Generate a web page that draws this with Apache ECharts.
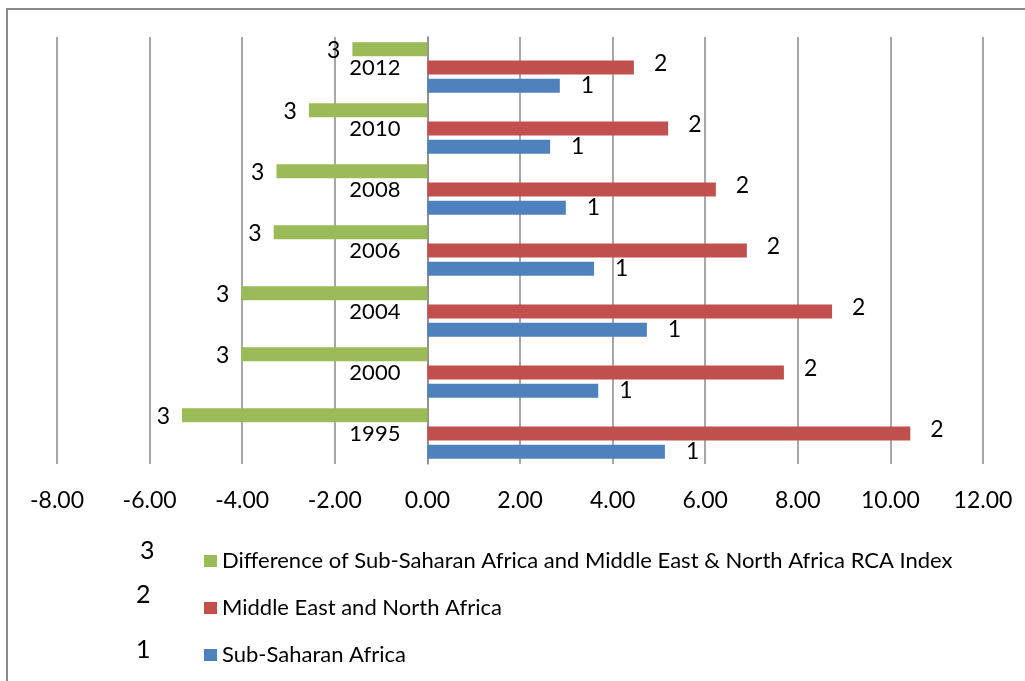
<!DOCTYPE html>
<html>
<head>
<meta charset="utf-8">
<script src="https://cdn.jsdelivr.net/npm/echarts@6/dist/echarts.min.js"></script>
<style>
html,body{margin:0;padding:0;background:#fff;}
#chart{width:1025px;height:681px;}
</style>
</head>
<body>
<div id="chart"></div>
<script>
const years = ['1995', '2000', '2004', '2006', '2008', '2010', '2012'];
const subSaharan = [5.13, 3.69, 4.74, 3.60, 2.99, 2.65, 2.86];
const mena = [10.43, 7.70, 8.74, 6.90, 6.23, 5.20, 4.46];
const difference = [-5.30, -4.02, -4.02, -3.32, -3.26, -2.56, -1.62];
const seriesNames = [
  'Difference of Sub-Saharan Africa and Middle East & North Africa RCA Index',
  'Middle East and North Africa',
  'Sub-Saharan Africa'
];
const seriesTags = ['3', '2', '1'];
const axisMin = -8, axisMax = 12, axisStep = 2;

const FONT = 'Lato';
const chart = echarts.init(document.getElementById('chart'), null, {renderer: 'canvas'});

function mkSeries(i, data, color, pos, dist, offY) {
  return {
    name: seriesNames[i],
    type: 'bar',
    data: data,
    barWidth: 14,
    barGap: '30%',
    itemStyle: {color: color},
    label: {
      show: true,
      position: pos,
      distance: dist,
      offset: [0, offY],
      formatter: () => seriesTags[i],
      fontFamily: FONT,
      fontSize: 23,
      color: '#000'
    },
    emphasis: {disabled: true},
    animation: false
  };
}

const option = {
  animation: false,
  grid: {left: 57, right: 42, top: 37, bottom: 217, containLabel: false, outerBoundsMode: 'none'},
  xAxis: {
    type: 'value',
    min: axisMin, max: axisMax, interval: axisStep,
    axisLine: {show: false},
    axisTick: {show: false},
    splitLine: {show: true, lineStyle: {color: '#8a8a8a', width: 1.5}},
    axisLabel: {
      formatter: v => v.toFixed(2),
      fontFamily: FONT, fontSize: 23, color: '#000', margin: 25
    }
  },
  yAxis: {
    type: 'category',
    data: years,
    axisLine: {show: true, onZero: true, lineStyle: {color: '#8a8a8a', width: 1.5}},
    axisTick: {show: false},
    axisLabel: {show: false}
  },
  legend: {
    orient: 'vertical',
    left: 204, top: 549,
    padding: 0,
    data: seriesNames,
    icon: 'rect',
    itemWidth: 13, itemHeight: 12,
    itemGap: 23,
    selectedMode: false,
    textStyle: {fontFamily: FONT, fontSize: 22, color: '#000', lineHeight: 24}
  },
  graphic: [
    {type: 'rect', shape: {x: 7, y: 9, width: 1030, height: 690}, style: {fill: 'none', stroke: '#8a8a8a', lineWidth: 2}, silent: true},
    {type: 'text', left: 140, top: 538, style: {text: seriesTags[0], fontFamily: FONT, fontSize: 25, fill: '#000'}},
    {type: 'text', left: 136, top: 582, style: {text: seriesTags[1], fontFamily: FONT, fontSize: 25, fill: '#000'}},
    {type: 'text', left: 136, top: 637, style: {text: seriesTags[2], fontFamily: FONT, fontSize: 25, fill: '#000'}}
  ],
  series: [
    mkSeries(0, difference, '#9BBB59', 'left', 12, 1),
    mkSeries(1, mena, '#C0504D', 'right', 20, -4),
    mkSeries(2, subSaharan, '#4F81BD', 'right', 21, 0),
    {
      type: 'scatter',
      data: years.map(y => [0, y]),
      symbolSize: 0,
      silent: true,
      itemStyle: {opacity: 1},
      label: {
        show: true,
        position: 'left',
        distance: 27,
        formatter: p => p.value[1],
        fontFamily: FONT, fontSize: 22, color: '#000', opacity: 1
      },
      emphasis: {disabled: true},
      animation: false
    }
  ]
};
chart.setOption(option);
</script>
</body>
</html>
